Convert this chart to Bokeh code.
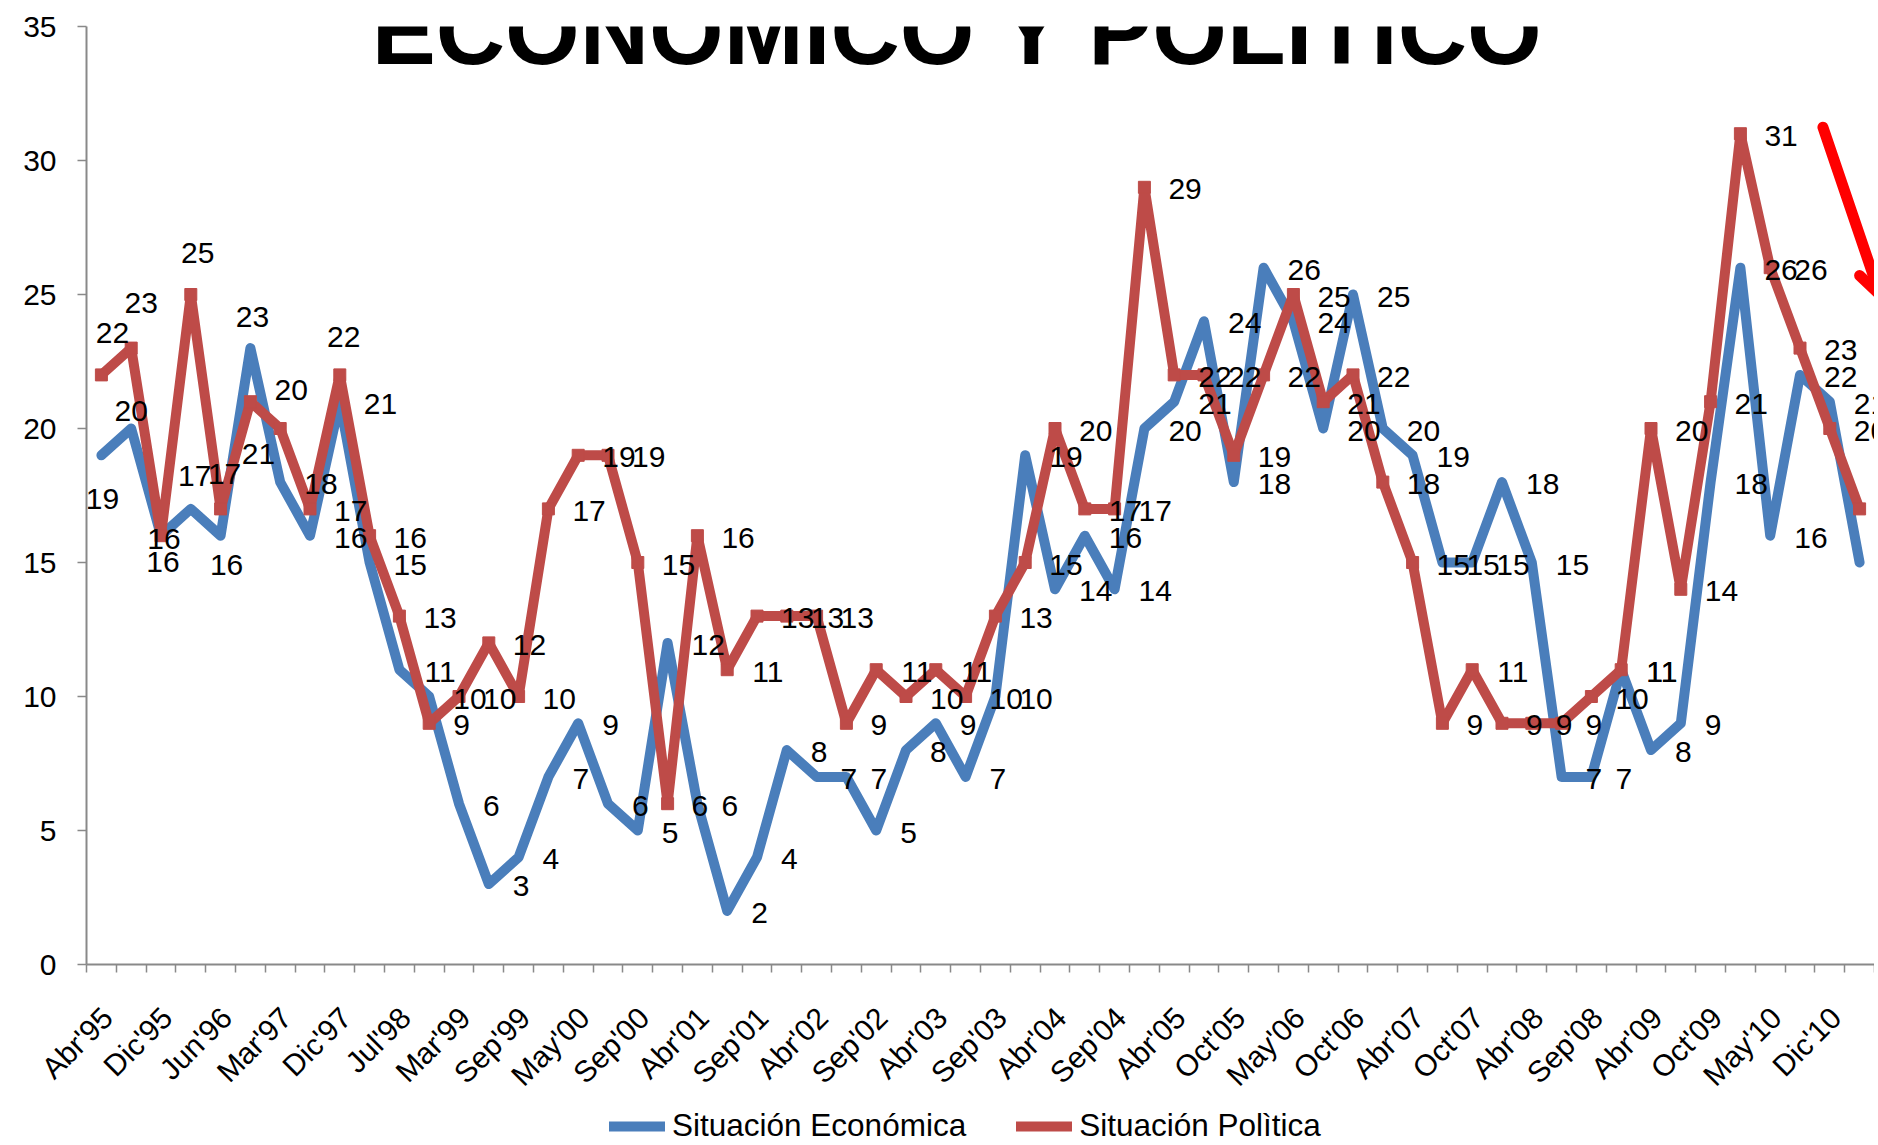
import math
from bokeh.plotting import figure
from bokeh.layouts import column
from bokeh.models import (ColumnDataSource, Range1d, FixedTicker, Legend, LegendItem, Label,
                          LinearAxis)
from bokeh.core.properties import value
from bokeh.embed import file_html
from bokeh.resources import INLINE

# ---------------- data ----------------
x_labels = ["Abr'95", "Dic'95", "Jun'96", "Mar'97", "Dic'97", "Jul'98", "Mar'99", "Sep'99",
            "May'00", "Sep'00", "Abr'01", "Sep'01", "Abr'02", "Sep'02", "Abr'03", "Sep'03",
            "Abr'04", "Sep'04", "Abr'05", "Oct'05", "May'06", "Oct'06", "Abr'07", "Oct'07",
            "Abr'08", "Sep'08", "Abr'09", "Oct'09", "May'10", "Dic'10"]

economica = [19, 20, 16, 17, 16, 23, 18, 16, 21, 15, 11, 10, 6, 3, 4, 7, 9, 6, 5, 12,
             6, 2, 4, 8, 7, 7, 5, 8, 9, 7, 10, 19, 14, 16, 14, 20, 21, 24, 18, 26,
             24, 20, 25, 20, 19, 15, 15, 18, 15, 7, 7, 11, 8, 9, 18, 26, 16, 22, 21, 15]

politica = [22, 23, 16, 25, 17, 21, 20, 17, 22, 16, 13, 9, 10, 12, 10, 17, 19, 19, 15, 6,
            16, 11, 13, 13, 13, 9, 11, 10, 11, 10, 13, 15, 20, 17, 17, 29, 22, 22, 19, 22,
            25, 21, 22, 18, 15, 9, 11, 9, 9, 9, 10, 11, 20, 14, 21, 31, 26, 23, 20, 17]

series_names = ["Situación Económica", "Situación Polìtica"]
title_text = "ECONOMICO Y POLITICO"

# ---------------- styles ----------------
BLUE = "#4A7EBB"
RED = "#BE4B48"
AXIS = "#898989"
FONT = "Liberation Sans"
LINE_W = 10
LABEL_SHIFT = 0.2   # rotated category labels hang slightly right of the category centre

# manual label placements (centre offsets in px, y down) for the first points
econ_label_override = {0: (1, 44), 1: (0, -18), 2: (2, 26), 3: (4, -33), 4: (6, 29), 5: (2, -31)}
pol_label_override = {0: (11, -42), 1: (10, -45), 2: (3, 3), 3: (7, -42), 4: (4, -35),
                      5: (8, 52), 6: (11, -39), 8: (4, -38)}

n = len(economica)
xs = list(range(n))

p = figure(width=1874, height=1106, output_backend="svg", toolbar_location=None,
           x_range=Range1d(-0.5, n - 0.5), y_range=Range1d(0, 35), x_axis_location=None,
           min_border=0, min_border_left=86, min_border_right=0,
           min_border_top=26, min_border_bottom=142)
p.extra_x_ranges = {"lab": Range1d(-0.5 - LABEL_SHIFT, n - 0.5 - LABEL_SHIFT)}
p.outline_line_color = None
p.xgrid.visible = False
p.ygrid.visible = False
p.background_fill_color = "white"
p.border_fill_color = "white"

# x axis (category boundaries as small ticks, labels every second category)
xa = LinearAxis(x_range_name="lab")
xa.ticker = FixedTicker(ticks=list(range(0, n, 2)),
                        minor_ticks=[i - 0.5 - LABEL_SHIFT for i in range(n + 1)])
xa.major_label_overrides = {2 * k: lab for k, lab in enumerate(x_labels)}
xa.major_label_orientation = math.pi / 4
xa.major_tick_out = 0
xa.major_tick_in = 0
xa.minor_tick_out = 8
xa.minor_tick_in = 0
xa.minor_tick_line_color = AXIS
xa.minor_tick_line_width = 1.5
xa.axis_line_color = AXIS
xa.axis_line_width = 2
xa.major_label_text_font = FONT
xa.major_label_text_font_size = "30px"
xa.major_label_text_color = "black"
xa.major_label_standoff = 40
p.add_layout(xa, "below")

# y axis
ya = p.yaxis[0]
ya.ticker = FixedTicker(ticks=list(range(0, 36, 5)))
ya.major_tick_out = 9
ya.major_tick_in = 0
ya.minor_tick_out = 0
ya.minor_tick_in = 0
ya.major_tick_line_color = AXIS
ya.major_tick_line_width = 1.5
ya.axis_line_color = AXIS
ya.axis_line_width = 2
ya.major_label_text_font = FONT
ya.major_label_text_font_size = "30px"
ya.major_label_text_color = "black"
ya.major_label_standoff = 21

src = ColumnDataSource(dict(x=xs, econ=economica, pol=politica))

p.line("x", "econ", source=src, line_color=BLUE, line_width=LINE_W,
       line_join="round", line_cap="round")
p.line("x", "pol", source=src, line_color=RED, line_width=LINE_W, line_join="round")
p.scatter("x", "pol", source=src, marker="square", size=12, fill_color=RED, line_color=RED)

# data labels
def label_source(vals, overrides):
    dx, dy, tx = [], [], []
    for i, v in enumerate(vals):
        t = str(v)
        if i in overrides:
            ox, oy = overrides[i]
        else:
            ox, oy = 24 + len(t) * 8.35, 2
        dx.append(ox)
        dy.append(oy)
        tx.append(t)
    return ColumnDataSource(dict(x=xs, y=vals, t=tx, dx=dx, dy=dy))

for vals, ov in ((economica, econ_label_override), (politica, pol_label_override)):
    p.text("x", "y", text="t", source=label_source(vals, ov), x_offset="dx", y_offset="dy",
           text_align="center", text_baseline="middle", text_font=value(FONT),
           text_font_size="30px", text_color="black")

# red arrow annotation (top-right, partly cut off)
p.segment(x0=[57.77, 59.0], y0=[31.24, 25.71], x1=[59.63, 59.63], y1=[25.15, 25.04],
          line_color="#FF0000", line_width=11, line_cap="round")

# title
p.add_layout(Label(x=28.76, y=34.85, text=title_text, text_font=FONT, text_font_style="bold",
                   text_font_size="96px", text_align="center", text_baseline="alphabetic",
                   text_color="black"))

# legend strip below the chart (swatch renderers sit outside the visible range)
leg = figure(width=1874, height=38, output_backend="svg", toolbar_location=None,
             x_range=Range1d(0, 1), y_range=Range1d(0, 1), x_axis_location=None,
             y_axis_location=None, min_border=0)
leg.outline_line_color = None
leg.xgrid.visible = False
leg.ygrid.visible = False
offscreen = ColumnDataSource(dict(x=[-5.0, -4.0], y=[-5.0, -5.0]))
l_econ = leg.line("x", "y", source=offscreen, line_color=BLUE, line_width=LINE_W, line_cap="round")
l_pol = leg.line("x", "y", source=offscreen, line_color=RED, line_width=LINE_W, line_cap="round")
l_pol_m = leg.scatter("x", "y", source=offscreen, marker="square", size=12,
                      fill_color=RED, line_color=RED)

legend = Legend(items=[LegendItem(label=series_names[0], renderers=[l_econ]),
                       LegendItem(label=series_names[1], renderers=[l_pol, l_pol_m])],
                orientation="horizontal", location=(523, 0),
                label_text_font=FONT, label_text_font_size="31.5px", label_text_color="black",
                glyph_width=56, glyph_height=20, label_height=20, spacing=50, label_standoff=7,
                padding=0, margin=0, background_fill_alpha=0, border_line_color=None)
leg.add_layout(legend)

layout = column(p, leg, spacing=0)
open("out.html", "w").write(file_html(layout, INLINE))
